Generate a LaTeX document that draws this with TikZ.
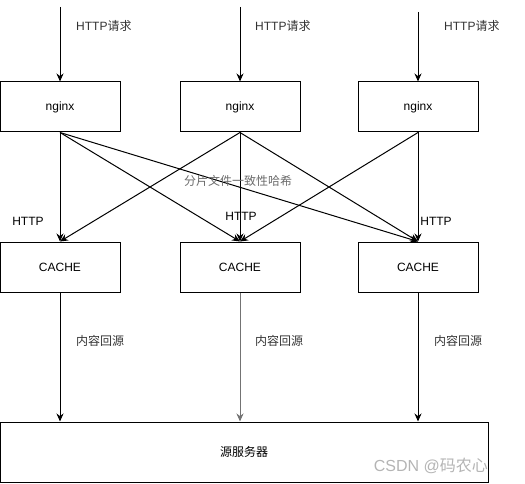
\documentclass[tikz,border=0pt]{standalone}
\usepackage{fontspec}
\setmainfont{Liberation Sans}
\newfontfamily\cjk{Noto Sans CJK SC}
\usetikzlibrary{arrows.meta}
\definecolor{txt}{HTML}{333333}
\definecolor{wm}{HTML}{B4B4B4}
\begin{document}
\begin{tikzpicture}[x=1pt,y=-1pt,
  box/.style={draw=black,line width=1pt,minimum width=120pt,minimum height=50pt,inner sep=0pt,font=\fontsize{12}{14}\selectfont,text=black},
  conn/.style={draw=black,line width=1pt,-{Stealth[length=8pt,width=7pt]}},
  lbl/.style={font=\fontsize{12}{14}\selectfont,text=txt,inner sep=0pt}]
\useasboundingbox (0,0) rectangle (525,484);
% nodes
\node[box] (n1) at (60,107) {nginx};
\node[box] (n2) at (240,107) {nginx};
\node[box] (n3) at (418,107) {nginx};
\node[box] (c1) at (60,267) {CACHE};
\node[box] (c2) at (240,267) {CACHE};
\node[box] (c3) at (418,267) {CACHE};
\node[box,minimum width=488pt,minimum height=60pt] (src) at (244,452) {\cjk 源服务器};
% request sources
\coordinate (s1) at (60,7);
\coordinate (s2) at (240,7);
\coordinate (s3) at (418,12);
\draw[conn] (s1) -- (n1.north);
\draw[conn] (s2) -- (n2.north);
\draw[conn] (s3) -- (n3.north);
% hashing connectors
\foreach \a in {n1,n2}{
  \foreach \b in {c1,c2,c3}{
    \draw[conn] (\a.south) -- (\b.north);
  }
}
\draw[conn] (n3.south) -- (c2.north);
\draw[conn] (n3.south) -- (c3.north);
% back to source
\draw[conn] (c1.south) -- (c1.south |- src.north);
\draw[conn,draw=gray!90!black] (c2.south) -- (c2.south |- src.north);
\draw[conn] (c3.south) -- (c3.south |- src.north);
% labels
\node[lbl,anchor=west] (l1) at (76,26) {HTTP{\cjk 请求}};
\node[lbl,anchor=west] (l2) at (255,26) {HTTP{\cjk 请求}};
\node[lbl,anchor=west] (l3) at (444,26) {HTTP{\cjk 请求}};
\node[lbl,text=gray!85!black] (hash) at (238,181) {\cjk 分片文件一致性哈希};
\node[lbl,text=black] (h1) at (28,221) {HTTP};
\node[lbl,text=black] (h2) at (241,216) {HTTP};
\node[lbl,text=black] (h3) at (436,221) {HTTP};
\node[lbl,anchor=west] (r1) at (76,341) {\cjk 内容回源};
\node[lbl,anchor=west] (r2) at (255,341) {\cjk 内容回源};
\node[lbl,anchor=west] (r3) at (434,341) {\cjk 内容回源};
\node[font=\fontsize{16}{18}\selectfont,text=wm,inner sep=0pt,anchor=east] (wm) at (488,466) {CSDN @{\cjk 码农心}};
\end{tikzpicture}
\end{document}
